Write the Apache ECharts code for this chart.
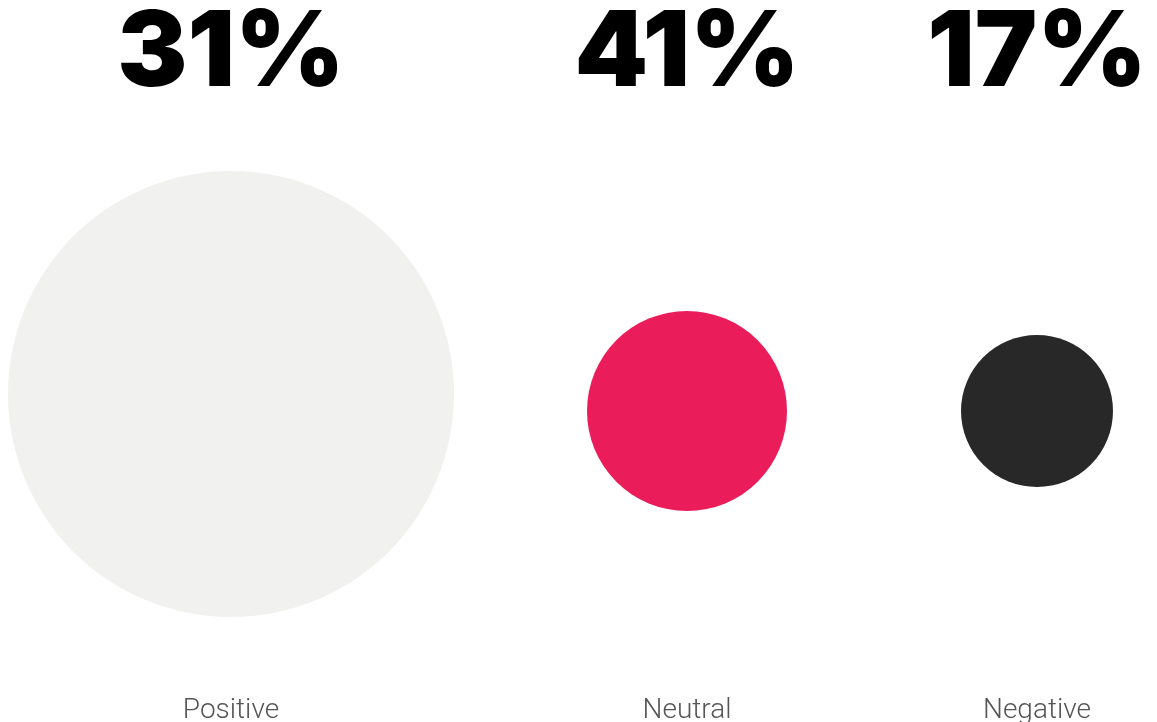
<!DOCTYPE html>
<html>
<head>
<meta charset="utf-8">
<style>
  html, body { margin: 0; padding: 0; background: #ffffff; }
  #chart { width: 1157px; height: 722px; }
</style>
<script src="https://cdn.jsdelivr.net/npm/echarts@6/dist/echarts.min.js"></script>
</head>
<body>
<div id="chart"></div>
<script>
// Sentiment breakdown: share label per category, bubble scaled by volume
const categories = ['Positive', 'Neutral', 'Negative'];
const shares = [31, 41, 17];
const volume = [446, 200, 152];
const colors = ['#f1f1f0', '#eb1c5a', '#282828'];

// Column layout (one grid per category)
const columns = [
  { left: 8, width: 446, top: 120, bottom: 54 },
  { left: 587, width: 200, top: 154, bottom: 54 },
  { left: 961, width: 152, top: 154, bottom: 54 }
];
const pctBaseline = 107;

const chart = echarts.init(document.getElementById('chart'));

const grid = [], xAxis = [], yAxis = [], series = [];
categories.forEach((name, i) => {
  const c = columns[i];
  grid.push({
    left: c.left, width: c.width, top: c.top, bottom: c.bottom,
    containLabel: false, outerBoundsMode: 'none'
  });
  // bottom axis: category name
  xAxis.push({
    type: 'category', gridIndex: i, data: [name], position: 'bottom',
    axisLine: { show: false }, axisTick: { show: false }, splitLine: { show: false },
    axisLabel: {
      margin: 29, color: '#555555', fontFamily: 'Roboto', fontWeight: 300, fontSize: 28
    }
  });
  // top axis: share percentage
  xAxis.push({
    type: 'category', gridIndex: i, data: [name], position: 'top',
    offset: c.top - pctBaseline,
    axisLine: { show: false }, axisTick: { show: false }, splitLine: { show: false },
    axisLabel: {
      margin: 0, color: '#000000', fontFamily: 'Inter', fontWeight: 900, fontSize: 105,
      verticalAlign: 'bottom',
      formatter: () => shares[i] + '%'
    }
  });
  yAxis.push({ type: 'value', gridIndex: i, min: 0, max: 1, show: false });
  series.push({
    type: 'scatter', xAxisIndex: i * 2, yAxisIndex: i,
    data: [[name, 0.5, volume[i]]],
    symbol: 'circle',
    symbolSize: d => d[2],
    itemStyle: { color: colors[i], opacity: 1 },
    silent: true
  });
});

chart.setOption({
  backgroundColor: '#ffffff',
  animation: false,
  grid, xAxis, yAxis, series
});
</script>
</body>
</html>
